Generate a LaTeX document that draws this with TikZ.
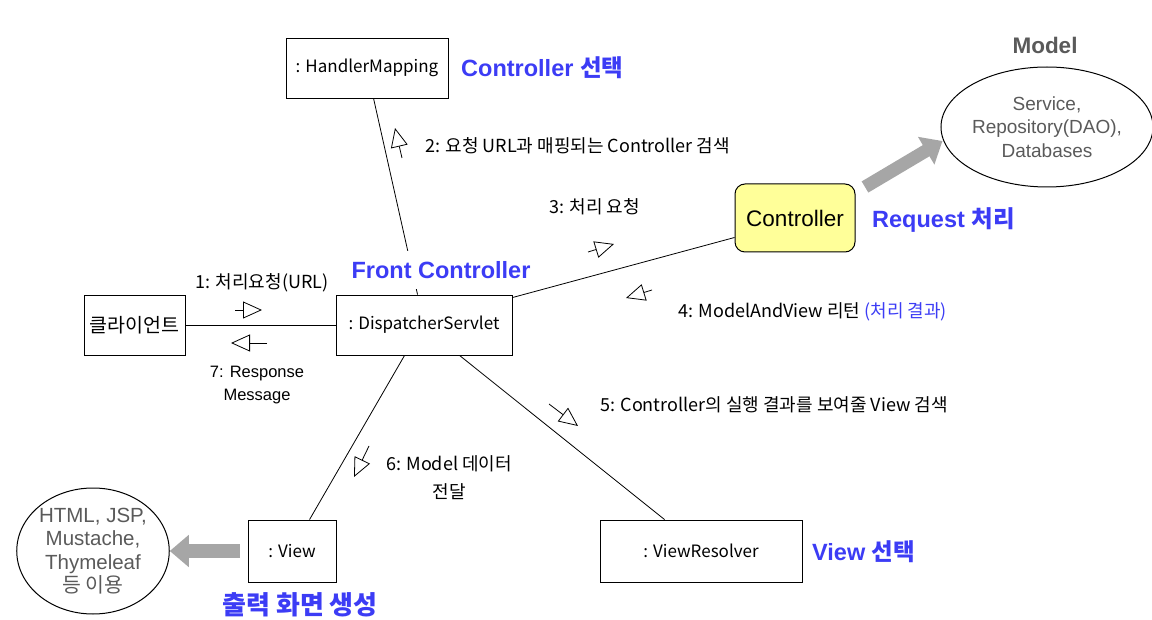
\documentclass[tikz,border=0pt]{standalone}
\usepackage{fontspec}
\setmainfont{Liberation Sans}
\newfontfamily\kr{Noto Sans CJK KR}
\usetikzlibrary{arrows.meta,calc,shapes.geometric}
\definecolor{lblue}{RGB}{60,60,245}
\definecolor{tgray}{RGB}{90,90,90}
\definecolor{agray}{RGB}{166,166,166}
\definecolor{cyellow}{RGB}{255,255,153}
\begin{document}
\begin{tikzpicture}[x=1pt,y=-1pt,
 box/.style={draw, line width=0.9pt, inner sep=0pt, font=\kr\fontsize{17}{20}\selectfont},
 msg/.style={font=\kr\fontsize{18}{21}\selectfont, inner sep=1pt, align=center},
 lbl/.style={text=lblue, font=\bfseries\fontsize{23.5}{26}\selectfont, inner sep=1pt},
 conn/.style={line width=0.8pt},
 marrow/.style={line width=0.8pt, -{Triangle[open,length=19pt,width=17pt]}},
 garrow/.style={line width=14pt, agray, -{Triangle[length=19pt,width=31pt]}},
 oval/.style={draw, ellipse, line width=1pt, inner sep=0pt, text=tgray, align=center,
   font=\fontsize{19}{23.5}\selectfont},
]
\useasboundingbox (0,0) rectangle (1152,620);

% boxes
\node[box, minimum width=162pt, minimum height=60pt] (hm) at (367,68) {: HandlerMapping};
\node[box, minimum width=176pt, minimum height=60pt] (ds) at (424,325) {: DispatcherServlet};
\node[box, minimum width=101pt, minimum height=60pt, font=\kr\fontsize{19.5}{22}\selectfont] (cl) at (134.5,325) {클라이언트};
\node[draw, line width=1pt, fill=cyellow, rounded corners=10pt, minimum width=120pt,
  minimum height=68pt, inner sep=0pt, font=\fontsize{22.5}{26}\selectfont] (ctrl) at (795,218) {Controller};
\node[box, minimum width=88pt, minimum height=62pt] (view) at (292,551) {: View};
\node[box, minimum width=202pt, minimum height=62pt] (vr) at (701,551) {: ViewResolver};

% ellipses
\node[oval, minimum width=179pt, minimum height=120pt] (model) at (1047,127)
  {Service,\\Repository(DAO),\\Databases};
\node[text=tgray, font=\bfseries\fontsize{22.5}{26}\selectfont] (modellbl) at (1045,45) {Model};
\node[oval, minimum width=150pt, minimum height=126pt, font=\fontsize{20.5}{23.5}\selectfont] (tmpl) at (93,551)
  {HTML, JSP,\\Mustache,\\Thymeleaf\\{\kr 등 이용}};

% connectors
\draw[conn] ($(hm.south west)+(88,0)$) -- ($(ds.north west)+(82,0)$);
\draw[conn] ($(ds.north east)+(0,3)$) -- ($(ctrl.south west)+(0,-15)$);
\draw[conn] (cl.east) -- (ds.west);
\draw[conn] ($(ds.south west)+(69,0)$) -- ($(view.north west)+(62,0)$);
\draw[conn] ($(ds.south west)+(124,0)$) -- ($(vr.north west)+(65,0)$);

% blue labels
\node[lbl, fill=white, inner xsep=2pt, inner ysep=10pt] (fc) at (441,270) {Front Controller};
\node[lbl, anchor=west] (csel) at (460,68) {Controller {\kr 선택}};
\node[lbl, anchor=west] (rq) at (871,220) {Request {\kr 처리}};
\node[lbl, anchor=west] (vsel) at (811,552) {View {\kr 선택}};
\node[lbl, font=\kr\bfseries\fontsize{26}{28}\selectfont] (out) at (300,605) {출력 화면 생성};

% message labels
\node[msg, anchor=west] (m2) at (424,146) {2: 요청 URL과 매핑되는 Controller 검색};
\node[msg, anchor=west] (m3) at (548,207) {3: 처리 요청};
\node[msg, anchor=west] (m4) at (677,312) {4: ModelAndView 리턴 {\color{lblue}(처리 결과)}};
\node[msg] (m1) at (262,283) {1: 처리요청(URL)};
\node[msg, font=\fontsize{16.5}{23}\selectfont] (m7) at (257,385) {7: Response\\Message};
\node[msg, anchor=west] (m5) at (599,405) {5: Controller의 실행 결과를 보여줄 View 검색};
\node[msg, font=\kr\fontsize{18}{28}\selectfont] (m6) at (449,478) {6: Model 데이터\\전달};

% message arrows
\coordinate (a2s) at (402,158); \coordinate (a2e) at (395,128);
\coordinate (a1s) at (235,310); \coordinate (a1e) at (262,310);
\coordinate (a7s) at (267,343); \coordinate (a7e) at (231,343);
\coordinate (a3s) at (588,252); \coordinate (a3e) at (614,244);
\coordinate (a4s) at (652,290); \coordinate (a4e) at (626,298);
\coordinate (a5s) at (549,404); \coordinate (a5e) at (578,426);
\coordinate (a6s) at (369,446); \coordinate (a6e) at (354,477);
\draw[marrow] (a2s) -- (a2e);
\draw[marrow] (a1s) -- (a1e);
\draw[marrow] (a7s) -- (a7e);
\draw[marrow] (a3s) -- (a3e);
\draw[marrow] (a4s) -- (a4e);
\draw[marrow] (a5s) -- (a5e);
\draw[marrow] (a6s) -- (a6e);

% gray arrows
\coordinate (g1s) at (865,187);
\draw[garrow, line width=13pt] (g1s) -- ($(model.west)+(2,14)$);
\draw[garrow] ($(view.west)+(-8,0)$) -- (tmpl.east);
\end{tikzpicture}
\end{document}
